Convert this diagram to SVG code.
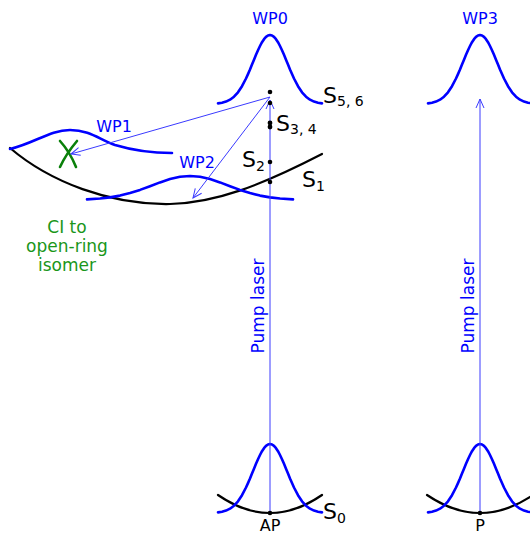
<svg xmlns="http://www.w3.org/2000/svg" xmlns:xlink="http://www.w3.org/1999/xlink" width="530" height="535" viewBox="0 0 530 535">
<style>
text{font-family:"DejaVu Sans","Noto Sans",sans-serif}
.wp{fill:none;stroke:#0000ff;stroke-width:2.6;stroke-linejoin:round;stroke-linecap:round}
.pes{fill:none;stroke:#000;stroke-width:2.2;stroke-linecap:round}
.lbl{font-size:16px;fill:#0000ff;text-anchor:middle}
.st{font-size:22px;fill:#000}
.sub{font-size:14px}
.ci{font-size:17px;fill:#1a961a;text-anchor:middle}
.arr{fill:none;stroke:#3a3aff;stroke-width:1}
.dot{fill:#000}
</style>
<defs>
<path id="g" d="M-52,-0.6 L-48,-1.3 -44,-2.4 -40,-4.3 -36,-7.3 -32,-11.7 -28,-17.8 -24,-25.5 -22,-29.9 -20,-34.5 -18,-39.4 -16,-44.3 -14,-49.2 -12,-53.8 -10,-58 -8,-61.8 -6,-64.8 -4,-67.1 -2,-68.5 0,-69 2,-68.5 4,-67.1 6,-64.8 8,-61.8 10,-58 12,-53.8 14,-49.2 16,-44.3 18,-39.4 20,-34.5 22,-29.9 24,-25.5 28,-17.8 32,-11.7 36,-7.3 40,-4.3 44,-2.4 48,-1.3 52,-0.6"/>
<marker id="ah" markerUnits="userSpaceOnUse" markerWidth="20" markerHeight="20" viewBox="-10 -10 20 20" refX="0" refY="0" orient="auto">
<path d="M-9,-4 L0,0 L-9,4" fill="none" stroke="#3a3aff" stroke-width="1"/>
</marker>
</defs>

<g id="s1-surface">
<path class="pes" d="M10,148 C50,182 110,205 170,204 C215,203 260,186 322,154"/>
</g>

<g id="wp1">
<path class="wp" d="M10,149 C35,143 50,130 70,130 C90,130 100,140 115,145 C135,151 155,153 172,153"/>
<text class="lbl" x="114" y="132">WP1</text>
</g>

<g id="ci">
<path d="M60,141 Q70,152 76,167 M77,141 Q66,154 60,167" fill="none" stroke="#0a800a" stroke-width="2.6" stroke-linecap="round"/>
<text class="ci" x="67" y="233">CI to</text>
<text class="ci" x="67" y="252">open-ring</text>
<text class="ci" x="67" y="271">isomer</text>
</g>

<g id="wp2">
<path class="wp" d="M87,199.4 L100,198.55 110,197.4 120,195.6 130,193.1 140,189.9 150,186.2 160,182.4 170,179.1 180,176.8 190,176 200,176.8 210,179.1 220,182.4 230,186.2 240,189.9 250,193.1 260,195.6 270,197.4 280,198.55 293,199.4"/>
<text class="lbl" x="197" y="168">WP2</text>
</g>

<g id="wp0">
<use xlink:href="#g" href="#g" class="wp" transform="translate(270,104)"/>
<text class="lbl" x="270" y="24">WP0</text>
</g>

<g id="wp3">
<use xlink:href="#g" href="#g" class="wp" transform="translate(480,104)"/>
<text class="lbl" x="480" y="24">WP3</text>
</g>

<g id="ap">
<path class="pes" d="M218,495 Q270,531 322,495"/>
<use xlink:href="#g" href="#g" class="wp" transform="translate(270,513)"/>
<text x="270" y="531" style="font-size:16px;fill:#000;text-anchor:middle">AP</text>
</g>

<g id="p">
<path class="pes" d="M427,495 Q480,531 533,495"/>
<use xlink:href="#g" href="#g" class="wp" transform="translate(480,513)"/>
<text x="480" y="531" style="font-size:16px;fill:#000;text-anchor:middle">P</text>
</g>

<g id="connectors">
<line class="arr" x1="270" y1="513" x2="270" y2="100" marker-end="url(#ah)"/>
<line class="arr" x1="480" y1="513" x2="480" y2="99" marker-end="url(#ah)"/>
<line class="arr" x1="270" y1="97" x2="71" y2="154" marker-end="url(#ah)"/>
<line class="arr" x1="270" y1="97" x2="193" y2="198" marker-end="url(#ah)"/>
<text transform="translate(264,306) rotate(-90)" style="font-size:17px;fill:#0000ff;text-anchor:middle">Pump laser</text>
<text transform="translate(474,306) rotate(-90)" style="font-size:17px;fill:#0000ff;text-anchor:middle">Pump laser</text>
</g>

<g id="states">
<circle class="dot" cx="270" cy="92" r="2.3"/>
<circle class="dot" cx="270" cy="103" r="2.3"/>
<circle class="dot" cx="270" cy="123" r="2.4"/>
<circle class="dot" cx="270" cy="127" r="2.4"/>
<circle class="dot" cx="270" cy="162" r="2.3"/>
<circle class="dot" cx="270" cy="182" r="2.3"/>
<circle class="dot" cx="270" cy="513" r="2.3"/>
<circle class="dot" cx="480" cy="513" r="2.3"/>
<text class="st" x="323" y="103">S<tspan class="sub" dy="3">5, 6</tspan></text>
<text class="st" x="276" y="131">S<tspan class="sub" dy="3">3, 4</tspan></text>
<text class="st" x="242" y="167">S<tspan class="sub" dy="4">2</tspan></text>
<text class="st" x="302" y="187">S<tspan class="sub" dy="4">1</tspan></text>
<text class="st" x="323" y="519">S<tspan class="sub" dy="4">0</tspan></text>
</g>
</svg>
